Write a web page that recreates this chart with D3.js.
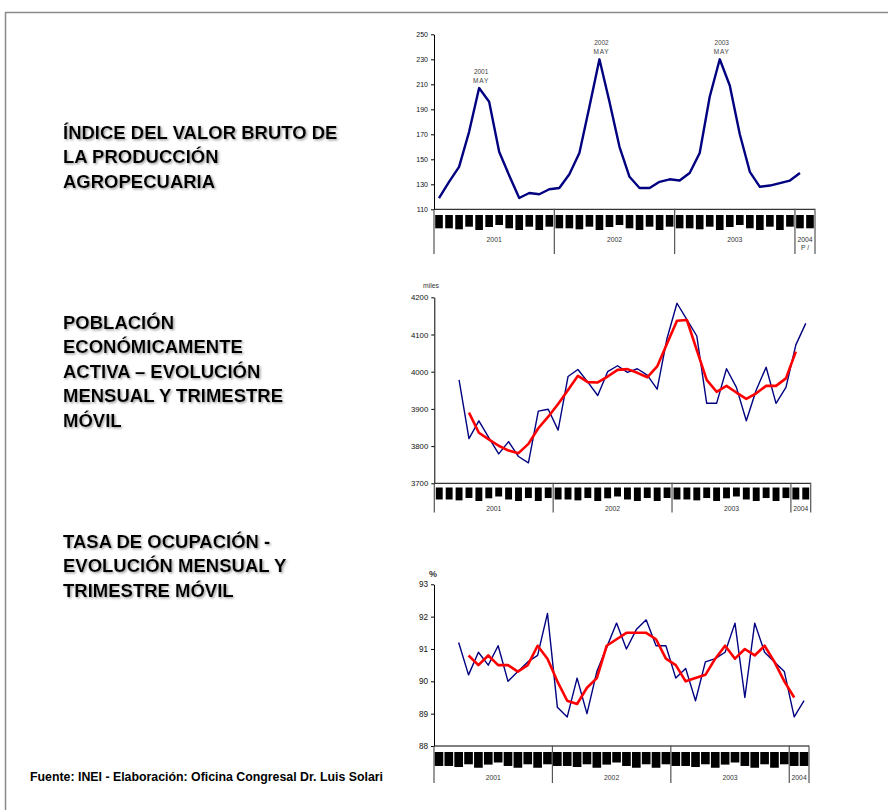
<!DOCTYPE html>
<html>
<head>
<meta charset="utf-8">
<script src="https://cdn.jsdelivr.net/npm/d3@7"></script>
<style>
  html, body { margin: 0; padding: 0; background: #fff; }
  svg { display: block; font-family: "Liberation Sans", Arial, sans-serif; }
  .title { font-weight: bold; font-size: 18.5px; fill: #000; filter: url(#shadow); }
</style>
</head>
<body>
<svg id="chart" width="888" height="810"></svg>
<script>
// ---------------- DATA ----------------
const years = ["2001", "2002", "2003", "2004"];
const monthsPerYear = [12, 12, 12, 2];
const monthLetters = ["E","F","M","A","M","J","J","A","S","O","N","D"];

// Índice del valor bruto de la producción agropecuaria (Ene 2001 .. Feb 2004)
const vbpValues = [119,132,144,172,207,196,156,137,119,123,122,126,
                   127,138,155,192,230,196,160,136,127,127,132,134,
                   133,139,155,200,230,209,170,140,128,129,131,133,
                   139,null];
const vbpPeaks = [{idx: 4, year: "2001", label: "MAY"},
                  {idx: 16, year: "2002", label: "MAY"},
                  {idx: 28, year: "2003", label: "MAY"}];
const vbpTicks = [110,130,150,170,190,210,230,250];

// PEA (miles) – mensual y trimestre móvil
const peaMensual = [null,null,3978,3820,3868,3823,3779,3812,3772,3755,3894,3899,
                    3843,3987,4006,3972,3936,4000,4016,3998,4008,3991,3953,4090,
                    4184,4140,4096,3915,3915,4008,3958,3868,3951,4012,3915,3958,
                    4072,4130];
const peaTrimestre = [null,null,null,3890,3836,3818,3801,3788,3781,3806,3848,3879,
                      3913,3951,3989,3972,3971,3987,4005,4007,3997,3985,4014,4076,
                      4137,4139,4058,3978,3946,3962,3944,3927,3942,3962,3962,3982,
                      4054,null];
const peaTicks = [3700,3800,3900,4000,4100,4200];

// Tasa de ocupación (%) – mensual y trimestre móvil
const ocupMensual = [null,null,91.2,90.2,90.9,90.5,91.1,90.0,90.3,90.6,90.8,92.1,
                     89.2,88.9,90.1,89.0,90.3,91.05,91.8,91.0,91.6,91.9,91.1,91.1,
                     90.1,90.4,89.4,90.6,90.7,90.9,91.8,89.5,91.8,90.9,90.6,90.3,
                     88.9,89.4];
const ocupTrimestre = [null,null,null,90.8,90.5,90.8,90.5,90.5,90.3,90.5,91.1,90.7,
                       90.0,89.4,89.3,89.8,90.1,91.1,91.3,91.5,91.5,91.5,91.3,90.7,
                       90.5,90.0,90.1,90.2,90.7,91.1,90.7,91.0,90.8,91.1,90.6,90.0,
                       89.5,null];
const ocupTicks = [88,89,90,91,92,93];

const titles = [
  ["ÍNDICE DEL VALOR BRUTO DE", "LA PRODUCCIÓN", "AGROPECUARIA"],
  ["POBLACIÓN", "ECONÓMICAMENTE", "ACTIVA – EVOLUCIÓN", "MENSUAL Y TRIMESTRE", "MÓVIL"],
  ["TASA DE OCUPACIÓN -", "EVOLUCIÓN MENSUAL Y", "TRIMESTRE MÓVIL"]
];
const footer = "Fuente: INEI  - Elaboración: Oficina Congresal Dr. Luis Solari";

// categories
const categories = [];
years.forEach((y, i) => {
  for (let m = 0; m < monthsPerYear[i]; m++) categories.push({key: y + "-" + (m + 1), year: y, m: m});
});
const catKeys = categories.map(c => c.key);

// ---------------- DRAW ----------------
const svg = d3.select("#chart");
const defs = svg.append("defs");
const f = defs.append("filter").attr("id", "shadow").attr("x", "-5%").attr("y", "-20%").attr("width", "115%").attr("height", "160%");
f.append("feDropShadow").attr("dx", 1.3).attr("dy", 1.3).attr("stdDeviation", 0.8).attr("flood-color", "#888").attr("flood-opacity", 0.85);

// frame
svg.append("line").attr("x1", 5).attr("x2", 888).attr("y1", 12.5).attr("y2", 12.5).attr("stroke", "#8a8a8a").attr("stroke-width", 1.5);
svg.append("line").attr("x1", 5.5).attr("x2", 5.5).attr("y1", 12).attr("y2", 810).attr("stroke", "#8a8a8a").attr("stroke-width", 1.5);

// titles
const titleStarts = [139, 329, 548];
titles.forEach((lines, i) => {
  const t = svg.append("text").attr("class", "title").attr("x", 63).attr("y", titleStarts[i]);
  lines.forEach((ln, j) => t.append("tspan").attr("x", 63).attr("dy", j === 0 ? 0 : 24.4).text(ln));
});

// footer
svg.append("text").attr("x", 30).attr("y", 780.5).attr("font-size", 12).attr("font-weight", "bold")
  .attr("textLength", 353).attr("lengthAdjust", "spacingAndGlyphs").text(footer);

const blockDepth = [13.3,13.3,14.3,11.7,15,12,10,13.3,15,11.7,15,11.7];

function drawPanel(cfg) {
  const g = svg.append("g");
  const x = d3.scaleBand().domain(catKeys).range([cfg.x0, cfg.x1]).paddingInner(0).paddingOuter(0);
  const y = d3.scaleLinear().domain(cfg.domain).range([cfg.yBottom, cfg.yTop]);
  const bw = x.bandwidth();
  const cx = i => x(catKeys[i]) + bw / 2;

  // y axis
  const ax = g.append("g").attr("transform", `translate(${cfg.x0},0)`)
    .call(d3.axisLeft(y).tickValues(cfg.ticks).tickSize(3).tickSizeOuter(0).tickPadding(3).tickFormat(d3.format("d")));
  ax.select(".domain").attr("stroke", "#000").attr("stroke-width", 1);
  ax.selectAll(".tick line").attr("stroke", "#000");
  ax.selectAll(".tick text").attr("font-size", cfg.tickFont).attr("fill", "#111")
    .attr("font-family", "'Liberation Sans', Arial, sans-serif");

  // x axis baseline
  g.append("line").attr("x1", cfg.x0).attr("x2", cfg.x1).attr("y1", cfg.yBottom).attr("y2", cfg.yBottom)
    .attr("stroke", "#000").attr("stroke-width", 1);

  // month label blocks
  g.selectAll("rect.blk").data(categories).join("rect").attr("class", "blk")
    .attr("x", d => x(d.key) + cfg.blkInset)
    .attr("width", bw - 2 * cfg.blkInset)
    .attr("y", cfg.blkTop)
    .attr("height", d => blockDepth[d.m] * cfg.blkScale)
    .attr("fill", "#000");

  // year dividers & labels
  let idx = 0;
  const bounds = [cfg.x0];
  years.forEach((yr, i) => {
    const start = x(catKeys[idx]);
    idx += monthsPerYear[i];
    const end = idx < catKeys.length ? x(catKeys[idx]) : cfg.x1;
    bounds.push(end);
    g.append("text").attr("x", (start + end) / 2).attr("y", cfg.yearY).attr("text-anchor", "middle")
      .attr("font-size", 6.8).attr("fill", "#333").text(yr);
    if (cfg.suffix && i === years.length - 1) {
      g.append("text").attr("x", (start + end) / 2).attr("y", cfg.yearY + 8.5).attr("text-anchor", "middle")
        .attr("font-size", 6.8).attr("fill", "#333").text(cfg.suffix);
    }
  });
  bounds.forEach((bx, i) => {
    g.append("line").attr("x1", bx).attr("x2", bx).attr("y1", i === 0 ? cfg.yBottom : cfg.yBottom - 0.5)
      .attr("y2", cfg.divBottom).attr("stroke", "#555").attr("stroke-width", 1.2);
  });

  // series
  cfg.series.forEach(s => {
    const line = d3.line().defined(d => d != null).x((d, i) => cx(i)).y(d => y(d));
    g.append("path").datum(s.values).attr("d", line).attr("fill", "none")
      .attr("stroke", s.color).attr("stroke-width", s.width).attr("stroke-linejoin", "round");
  });

  return {g, x, y, cx};
}

// Panel 1
const p1 = drawPanel({
  x0: 434, x1: 815, yTop: 34.3, yBottom: 209.3, domain: [110, 250], ticks: vbpTicks, tickFont: 7,
  blkTop: 215, blkInset: 1.2, blkScale: 1, yearY: 241.5, divBottom: 254, suffix: "P /",
  series: [{values: vbpValues, color: "#000080", width: 2.4}]
});
vbpPeaks.forEach(p => {
  const px = p1.cx(p.idx), py = p1.y(vbpValues[p.idx]);
  p1.g.append("text").attr("x", px + 2).attr("y", py - 14).attr("text-anchor", "middle")
    .attr("font-size", 6.5).attr("fill", "#444").text(p.year);
  p1.g.append("text").attr("x", px + 2).attr("y", py - 5).attr("text-anchor", "middle")
    .attr("font-size", 6.5).attr("fill", "#444").attr("letter-spacing", 0.8).text(p.label);
});

// Panel 2
const p2 = drawPanel({
  x0: 434.3, x1: 810.7, yTop: 297.3, yBottom: 483.3, domain: [3700, 4200], ticks: peaTicks, tickFont: 7.8,
  blkTop: 487.5, blkInset: 1.5, blkScale: 0.9, yearY: 510.5, divBottom: 512.5,
  series: [{values: peaMensual, color: "#000080", width: 1.4},
           {values: peaTrimestre, color: "#ff0000", width: 2.6}]
});
p2.g.append("text").attr("x", 423).attr("y", 287.5).attr("font-size", 6.8).attr("fill", "#333").text("miles");

// Panel 3
const p3 = drawPanel({
  x0: 434, x1: 809, yTop: 584.3, yBottom: 746, domain: [88, 93], ticks: ocupTicks, tickFont: 8.2,
  blkTop: 752, blkInset: 0.6, blkScale: 1.05, yearY: 779.5, divBottom: 783,
  series: [{values: ocupMensual, color: "#000080", width: 1.4},
           {values: ocupTrimestre, color: "#ff0000", width: 2.6}]
});
p3.g.append("text").attr("x", 429).attr("y", 577).attr("font-size", 9).attr("font-weight", "bold").attr("fill", "#333").text("%");
</script>
</body>
</html>
